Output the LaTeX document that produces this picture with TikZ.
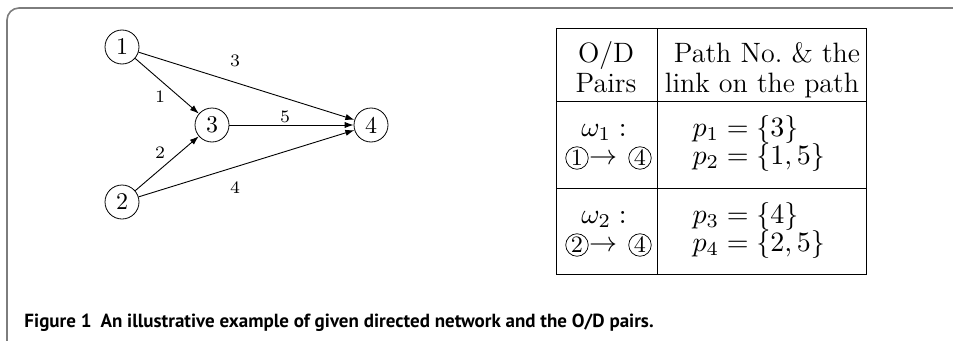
\RequirePackage{fix-cm}
\documentclass[tikz,border=0pt]{standalone}
\usepackage{fontspec}
\newfontfamily\capfont{PT Sans}
\usetikzlibrary{arrows.meta}
\definecolor{framegray}{RGB}{125,125,125}
\begin{document}
\begin{tikzpicture}[x=0.4pt,y=-0.4pt,
  vert/.style={circle,draw,line width=0.32pt,minimum size=13.6pt,inner sep=0pt,font=\fontsize{9.6}{11.5}\selectfont},
  elab/.style={inner sep=0pt,font=\fontsize{7}{8.4}\selectfont},
  edge/.style={line width=0.36pt,-{Latex[length=3.6pt,width=2.5pt]}},
  ttext/.style={inner sep=0pt,font=\fontsize{11.2}{13.4}\selectfont,anchor=base},
  cdig/.style={circle,draw,line width=0.3pt,minimum size=9pt,inner sep=0pt,font=\fontsize{9.4}{11}\selectfont},
  tline/.style={line width=0.38pt}]
\useasboundingbox (0,0) rectangle (953,340);
% frame
\draw[framegray,line width=0.64pt,rounded corners=4.8pt] (953,8) -- (7,8) -- (7,342);
% network
\node[vert] (n1) at (122,47) {1};
\node[vert] (n2) at (122,202) {2};
\node[vert] (n3) at (212,125) {3};
\node[vert] (n4) at (371,125) {4};
\draw[edge] (n1) -- (n3);
\draw[edge] (n1) -- (n4);
\draw[edge] (n2) -- (n3);
\draw[edge] (n2) -- (n4);
\draw[edge] (n3) -- (n4);
\node[elab] (l1) at (160,97) {1};
\node[elab] (l2) at (160,153) {2};
\node[elab] (l3) at (235,61) {3};
\node[elab] (l4) at (235,188) {4};
\node[elab] (l5) at (285,117) {5};
% table
\draw[tline] (556,28) rectangle (866,274);
\draw[tline] (657,28) -- (657,274);
\draw[tline] (556,101) -- (866,101);
\draw[tline] (556,188) -- (866,188);
\node[ttext] (h1) at (606,62.5) {O/D};
\node[ttext] (h2) at (606,92.5) {Pairs};
\node[ttext] (h3) at (767,62.5) {Path No.\ \& the};
\node[ttext] (h4) at (762,92.5) {link on the path};
\node[ttext] (w1) at (604,136) {$\omega_1:$};
\node[ttext] (w2) at (604,223) {$\omega_2:$};
\node[cdig] (c1) at (577,158) {1};
\node[ttext] (r1) at (603,164) {$\rightarrow$};
\node[cdig] (c4a) at (640,158) {4};
\node[cdig] (c2) at (577,245) {2};
\node[ttext] (r2) at (603,251) {$\rightarrow$};
\node[cdig] (c4b) at (640,245) {4};
\node[ttext,anchor=base west] (p1) at (692,136) {$p_1=\{3\}$};
\node[ttext,anchor=base west] (p2) at (692,164) {$p_2=\{1,5\}$};
\node[ttext,anchor=base west] (p3) at (692,223) {$p_3=\{4\}$};
\node[ttext,anchor=base west] (p4) at (692,251) {$p_4=\{2,5\}$};
% caption
\node[anchor=base west,inner sep=0pt,font=\capfont\bfseries\fontsize{7.6}{9}\selectfont] (cap) at (24,327)
  {Figure 1\hspace{3.6pt}An illustrative example of given directed network and the O/D pairs.};
\end{tikzpicture}
\end{document}
